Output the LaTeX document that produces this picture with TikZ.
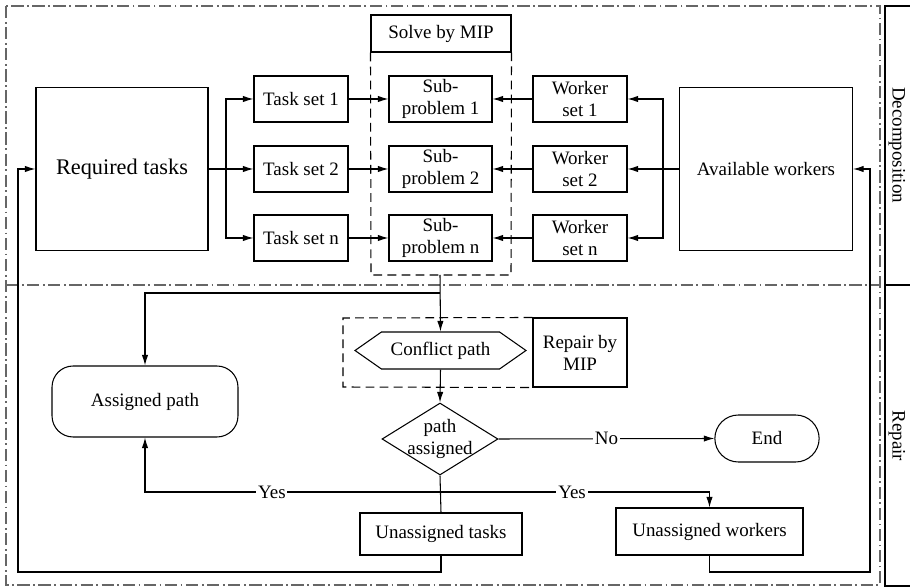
\documentclass[tikz,border=0pt]{standalone}
\usepackage{fontspec}
\setmainfont{Liberation Serif}
\usetikzlibrary{arrows.meta, shapes.geometric, shapes.misc, shapes.symbols, positioning}

\tikzset{
    txt/.style={font=\fontsize{10.8}{12.5}\selectfont},
    box/.style={txt, draw, rectangle, align=center, inner sep=1pt,
        minimum width=1.88cm, minimum height=0.92cm},
    bigbox/.style={draw, rectangle, align=center, minimum width=3.44cm, minimum height=3.26cm},
    frame/.style={gray!80!black, dash pattern=on 7pt off 2pt on 1pt off 2pt},
    group/.style={dashed, dash pattern=on 5pt off 3pt}
}

\begin{document}
\begin{tikzpicture}[>={Latex[length=6pt, width=3.6pt]}, x=0.02cm, y=-0.02cm, line width=0.6pt]
    \useasboundingbox (0,0) rectangle (910,587);
    % Frames
    \draw[frame] (6,6) rectangle (880,585);
    \draw[frame] (6,285) -- (880,285);
    \draw (910,6) -- (885,6) -- (885,586) -- (910,586);
    \draw (885,285) -- (910,285);
    \node[txt, rotate=-90] (decomp) at (897,145) {Decomposition};
    \node[txt, rotate=-90] (repair) at (897,436) {Repair};

    % Decomposition
    \node[bigbox, font=\fontsize{12.7}{15}\selectfont] (req) at (122,169) {Required tasks};
    \node[bigbox, txt, minimum width=3.46cm] (avail) at (766,169) {Available workers};
    \node[box, minimum width=2.8cm, minimum height=0.74cm] (solve) at (441,33.5) {Solve by MIP};
    \draw[group] (solve.south west) -- (371,275) -- (511,275) -- (solve.south east);
    \coordinate (mipbot) at (440,275);
    \coordinate (brL) at (226,169);
    \coordinate (brR) at (663,169);
    \draw (req.east) -- (brL);
    \draw (avail.west) -- (brR);
    \foreach \i/\y/\n in {1/99/1, 2/169/2, 3/238/n} {
        \node[box] (ts\i) at (301,\y) {Task set \n};
        \node[box, minimum width=2.06cm] (sp\i) at (440.5,\y) {Sub-\\problem \n};
        \node[box] (ws\i) at (580,\y) {Worker\\set \n};
        \draw[->] (brL) |- (ts\i.west);
        \draw[->] (brR) |- (ws\i.east);
        \draw[->] (ts\i) -- (sp\i);
        \draw[->] (ws\i) -- (sp\i);
    }

    % Repair
    \node[txt, draw, shape=signal, signal to=east and west, signal pointer angle=70,
        minimum width=3.42cm, minimum height=0.74cm, inner sep=1pt] (conf) at (440.5,350.5) {Conflict path};
    \node[box, minimum height=1.38cm] (rep) at (580,352.5) {Repair by\\MIP};
    \draw[group] (rep.north west) -- (343,318) -- (343,387) -- (rep.south west);
    \node[txt, draw, diamond, aspect=1.6, inner sep=-4pt, align=center,
        minimum width=2.32cm, minimum height=1.44cm] (dia) at (440,439) {path\\assigned};
    \node[txt, draw, rounded rectangle, minimum width=2.32cm, minimum height=0.94cm] (end) at (767,438.5) {End};
    \node[box, rounded corners=12, minimum width=3.72cm, minimum height=1.42cm] (assigned) at (145,401.5) {Assigned path};
    \node[box, minimum width=3.24cm, minimum height=0.84cm] (utask) at (441,534) {Unassigned tasks};
    \node[box, minimum width=3.74cm, minimum height=0.94cm] (uwork) at (709.5,531.5) {Unassigned workers};

    % Connections
    \coordinate (split) at (440,293);
    \draw[->] (mipbot) -- (conf.north);
    \draw[->] (split) -| (assigned.north);
    \draw[->] (conf.south) -- (dia.north);
    \draw[->] (dia.east) -- node[txt, fill=white, inner sep=1pt] {No} (end.west);
    \coordinate (yesrow) at (440,492);
    \draw (dia.south) -- (utask.north);
    \draw[->] (yesrow) -| node[txt, fill=white, inner sep=1pt, pos=0.285] {Yes} (assigned.south);
    \draw[->] (yesrow) -| node[txt, fill=white, inner sep=1pt, pos=0.245] {Yes} (uwork.north);
    \coordinate (loopL) at (18,572);
    \coordinate (loopR) at (870,572);
    \draw[->] (utask.south) |- (loopL) |- (req.west);
    \draw[->] (uwork.south) |- (loopR) |- (avail.east);
\end{tikzpicture}
\end{document}
